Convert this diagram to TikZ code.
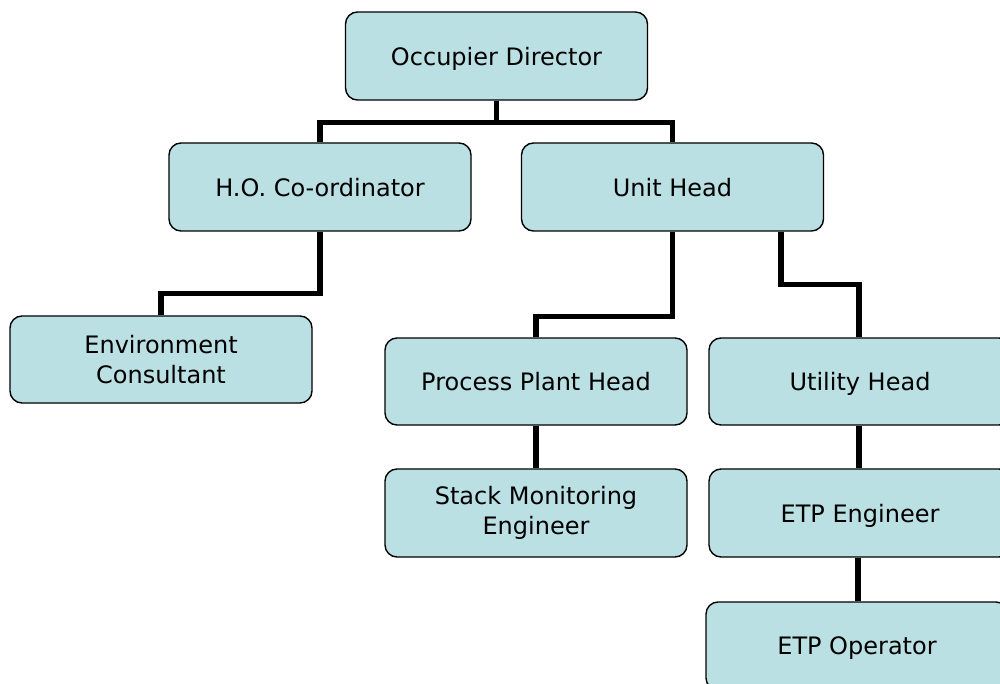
\documentclass[tikz,border=0pt]{standalone}
\usepackage{fontspec}
\setmainfont{DejaVu Sans}
\usetikzlibrary{calc}
\definecolor{boxfill}{RGB}{187,224,227}
\begin{document}
\begin{tikzpicture}[x=1pt,y=-1pt,
  orgbox/.style={draw=black, line width=1.4pt, fill=boxfill, rounded corners=12pt,
    minimum width=302pt, minimum height=88pt, inner sep=0pt, align=center,
    font=\fontsize{24}{30}\selectfont},
  oneline/.style={text depth=0pt},
  conn/.style={draw=black, line width=5.5pt, line join=miter}]
\clip (0,0) rectangle (1000,684);
\fill[white] (0,0) rectangle (1000,684);
\node[orgbox, oneline] (od) at (496.5,56) {Occupier Director};
\node[orgbox, oneline] (ho) at (320,187) {H.O. Co-ordinator};
\node[orgbox, oneline] (uh) at (672.5,187) {Unit Head};
\node[orgbox, minimum height=87pt] (env) at (161,359.5) {Environment\\Consultant};
\node[orgbox, oneline, minimum height=87pt] (pph) at (536,381.5) {Process Plant Head};
\node[orgbox, oneline, minimum height=87pt] (util) at (860,381.5) {Utility Head};
\node[orgbox] (smg) at (536,513) {Stack Monitoring\\Engineer};
\node[orgbox, oneline] (etpe) at (860,513) {ETP Engineer};
\node[orgbox, oneline] (etpo) at (857,646) {ETP Operator};
\coordinate (etpx) at ($(etpe.south)+(-2,0)$);
\draw[conn] (od.south) -- ++(0,22) -| (ho.north);
\draw[conn] (od.south) ++(0,22) -| (uh.north);
\draw[conn] (ho.south) -- ++(0,62) -| (env.north);
\draw[conn] (uh.south) -- ++(0,85) -| (pph.north);
\draw[conn] ($(uh.south)+(108.5,0)$) -- ++(0,53) -| ($(util.north)+(-1,0)$);
\draw[conn] (pph.south) -- (smg.north);
\draw[conn] ($(util.south)+(-1,0)$) -- ($(etpe.north)+(-1,0)$);
\draw[conn] (etpx) -- (etpx |- etpo.north);
\end{tikzpicture}
\end{document}
